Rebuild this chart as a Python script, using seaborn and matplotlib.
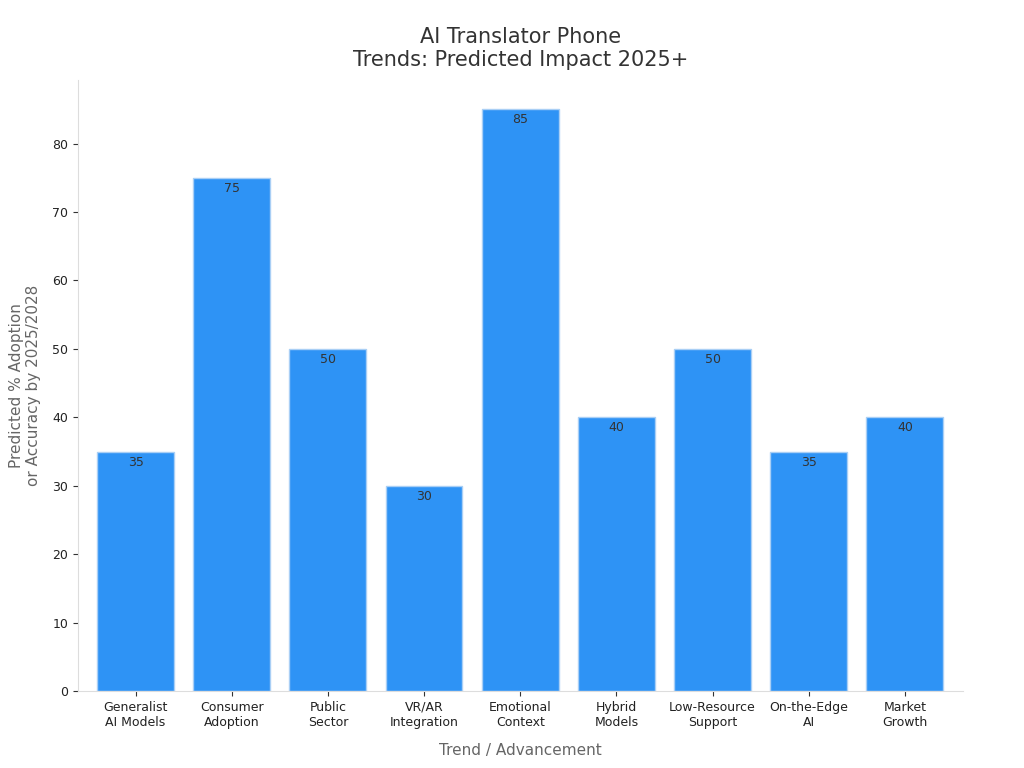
import matplotlib
matplotlib.use("Agg")
import matplotlib.pyplot as plt
import seaborn as sns
import pandas as pd

categories = ["Generalist\nAI Models", "Consumer\nAdoption", "Public\nSector", "VR/AR\nIntegration",
              "Emotional\nContext", "Hybrid\nModels", "Low-Resource\nSupport", "On-the-Edge\nAI", "Market\nGrowth"]
values = [35, 75, 50, 30, 85, 40, 50, 35, 40]

df = pd.DataFrame({"cat": categories, "val": values})
fig = plt.figure(figsize=(10.24, 7.68), dpi=100)
ax = fig.add_axes([0.076, 0.100, 0.864, 0.796])
sns.barplot(data=df, x="cat", y="val", color="#2E93F5", saturation=1, width=0.8,
            edgecolor="#A9CFF5", linewidth=1, ax=ax)
for i, v in enumerate(values):
    ax.text(i, v - 0.6, str(v), ha="center", va="top", fontsize=9, color="#333333")
ax.set_ylim(0, 89.3)
ax.set_xlim(-0.6, 8.6)
ax.set_yticks(range(0, 90, 10))
for s in ["top", "right"]:
    ax.spines[s].set_visible(False)
for s in ["left", "bottom"]:
    ax.spines[s].set_color("#DDDDDD")
ax.tick_params(axis="both", labelsize=9, colors="#222222")
ax.tick_params(axis="both", color="#333333")
ax.set_xlabel("Trend / Advancement", fontsize=11, color="#666666", labelpad=10)
ax.set_ylabel("Predicted % Adoption\nor Accuracy by 2025/2028", fontsize=11, color="#666666", labelpad=8)
ax.set_title("AI Translator Phone\nTrends: Predicted Impact 2025+", fontsize=15, color="#333333", pad=10)
fig.savefig("out.png", dpi=100)
